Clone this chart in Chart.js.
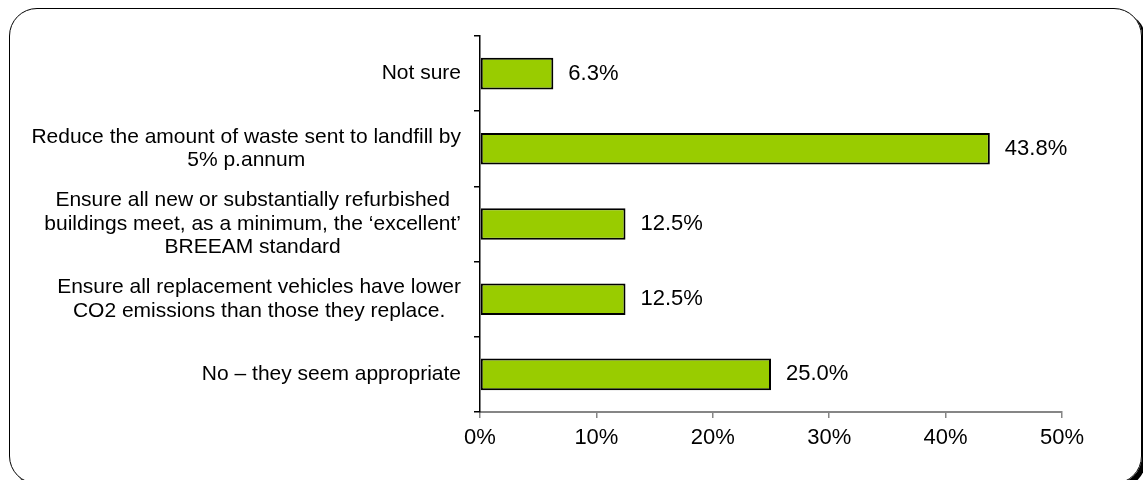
<!DOCTYPE html>
<html>
<head>
<meta charset="utf-8">
<script src="https://cdn.jsdelivr.net/npm/chart.js@4/dist/chart.umd.min.js"></script>
<style>
  html, body { margin: 0; padding: 0; background: #fff; overflow: hidden; }
  #wrap { position: relative; width: 1143px; height: 480px; overflow: hidden; }
  #frame {
    position: absolute; left: 9px; top: 8px; width: 1131px; height: 474px;
    border: 1.5px solid #000; border-radius: 28px; box-shadow: 4px 4px 0 #000;
  }
  canvas { position: absolute; left: 0; top: 0; }
</style>
</head>
<body>
<div id="wrap">
  <div id="frame"></div>
  <canvas id="chart" width="1143" height="480"></canvas>
</div>
<script>
// categories, top to bottom, split into the lines shown on the axis
const categories = [
  ['Not sure'],
  ['Reduce the amount of waste sent to landfill by', '5% p.annum'],
  ['Ensure all new or substantially refurbished', 'buildings meet, as a minimum, the \u2018excellent\u2019', 'BREEAM standard'],
  ['Ensure all replacement vehicles have lower', 'CO2 emissions than those they replace.'],
  ['No \u2013 they seem appropriate']
];
const percentages = [6.3, 43.8, 12.5, 12.5, 25.0];
const xTicks = [0, 10, 20, 30, 40, 50];

const FONT = '"Liberation Sans", Arial, sans-serif';

// category labels: each block right-aligned against the axis, lines centred inside it
const categoryLabels = {
  id: 'categoryLabels',
  afterDraw(chart) {
    const scale = chart.scales.y;
    const ctx = chart.ctx;
    const lineH = 23.5;
    ctx.save();
    ctx.font = '21px ' + FONT;
    ctx.fillStyle = '#000';
    ctx.textAlign = 'center';
    ctx.textBaseline = 'middle';
    categories.forEach((lines, i) => {
      const y = scale.getPixelForTick(i);
      const widest = Math.max(...lines.map(l => ctx.measureText(l).width));
      const cx = scale.right - 19 - widest / 2;
      const top = y - (lines.length - 1) * lineH / 2;
      lines.forEach((l, j) => ctx.fillText(l, cx, top + j * lineH));
    });
    ctx.restore();
  }
};

// value labels to the right of each bar
const valueLabels = {
  id: 'valueLabels',
  afterDatasetsDraw(chart) {
    const ctx = chart.ctx;
    const meta = chart.getDatasetMeta(0);
    ctx.save();
    ctx.font = '22px ' + FONT;
    ctx.fillStyle = '#000';
    ctx.textAlign = 'left';
    ctx.textBaseline = 'middle';
    meta.data.forEach((bar, i) => {
      ctx.fillText(percentages[i].toFixed(1) + '%', bar.x + 15, bar.y);
    });
    ctx.restore();
  }
};

new Chart(document.getElementById('chart'), {
  type: 'bar',
  data: {
    labels: categories.map(c => c.join(' ')),
    datasets: [{
      data: percentages,
      backgroundColor: '#99CC00',
      borderColor: '#000',
      borderWidth: 2,
      borderSkipped: false,
      categoryPercentage: 1,
      barPercentage: 0.42
    }]
  },
  options: {
    indexAxis: 'y',
    responsive: false,
    animation: false,
    devicePixelRatio: 1,
    layout: { padding: { top: 36, right: 81, bottom: 0, left: 0 } },
    plugins: { legend: { display: false }, tooltip: { enabled: false } },
    scales: {
      x: {
        min: 0,
        max: 50,
        afterBuildTicks: s => { s.ticks = xTicks.map(v => ({ value: v })); },
        afterFit: s => { s.height = 68; s.paddingLeft = 0; s.paddingRight = 0; },
        border: { color: '#868686', width: 2 },
        grid: { drawOnChartArea: false, color: '#868686', tickLength: 6, lineWidth: 1.5 },
        ticks: {
          color: '#000',
          padding: 7,
          font: { family: FONT, size: 22 },
          callback: v => v + '%'
        }
      },
      y: {
        afterFit: s => { s.width = 480; s.paddingTop = 0; s.paddingBottom = 0; },
        border: { color: '#000', width: 1.5 },
        grid: { drawOnChartArea: false, color: '#000', tickLength: 6, lineWidth: 1.5, offset: true },
        ticks: { display: false }
      }
    }
  },
  plugins: [categoryLabels, valueLabels]
});
</script>
</body>
</html>
